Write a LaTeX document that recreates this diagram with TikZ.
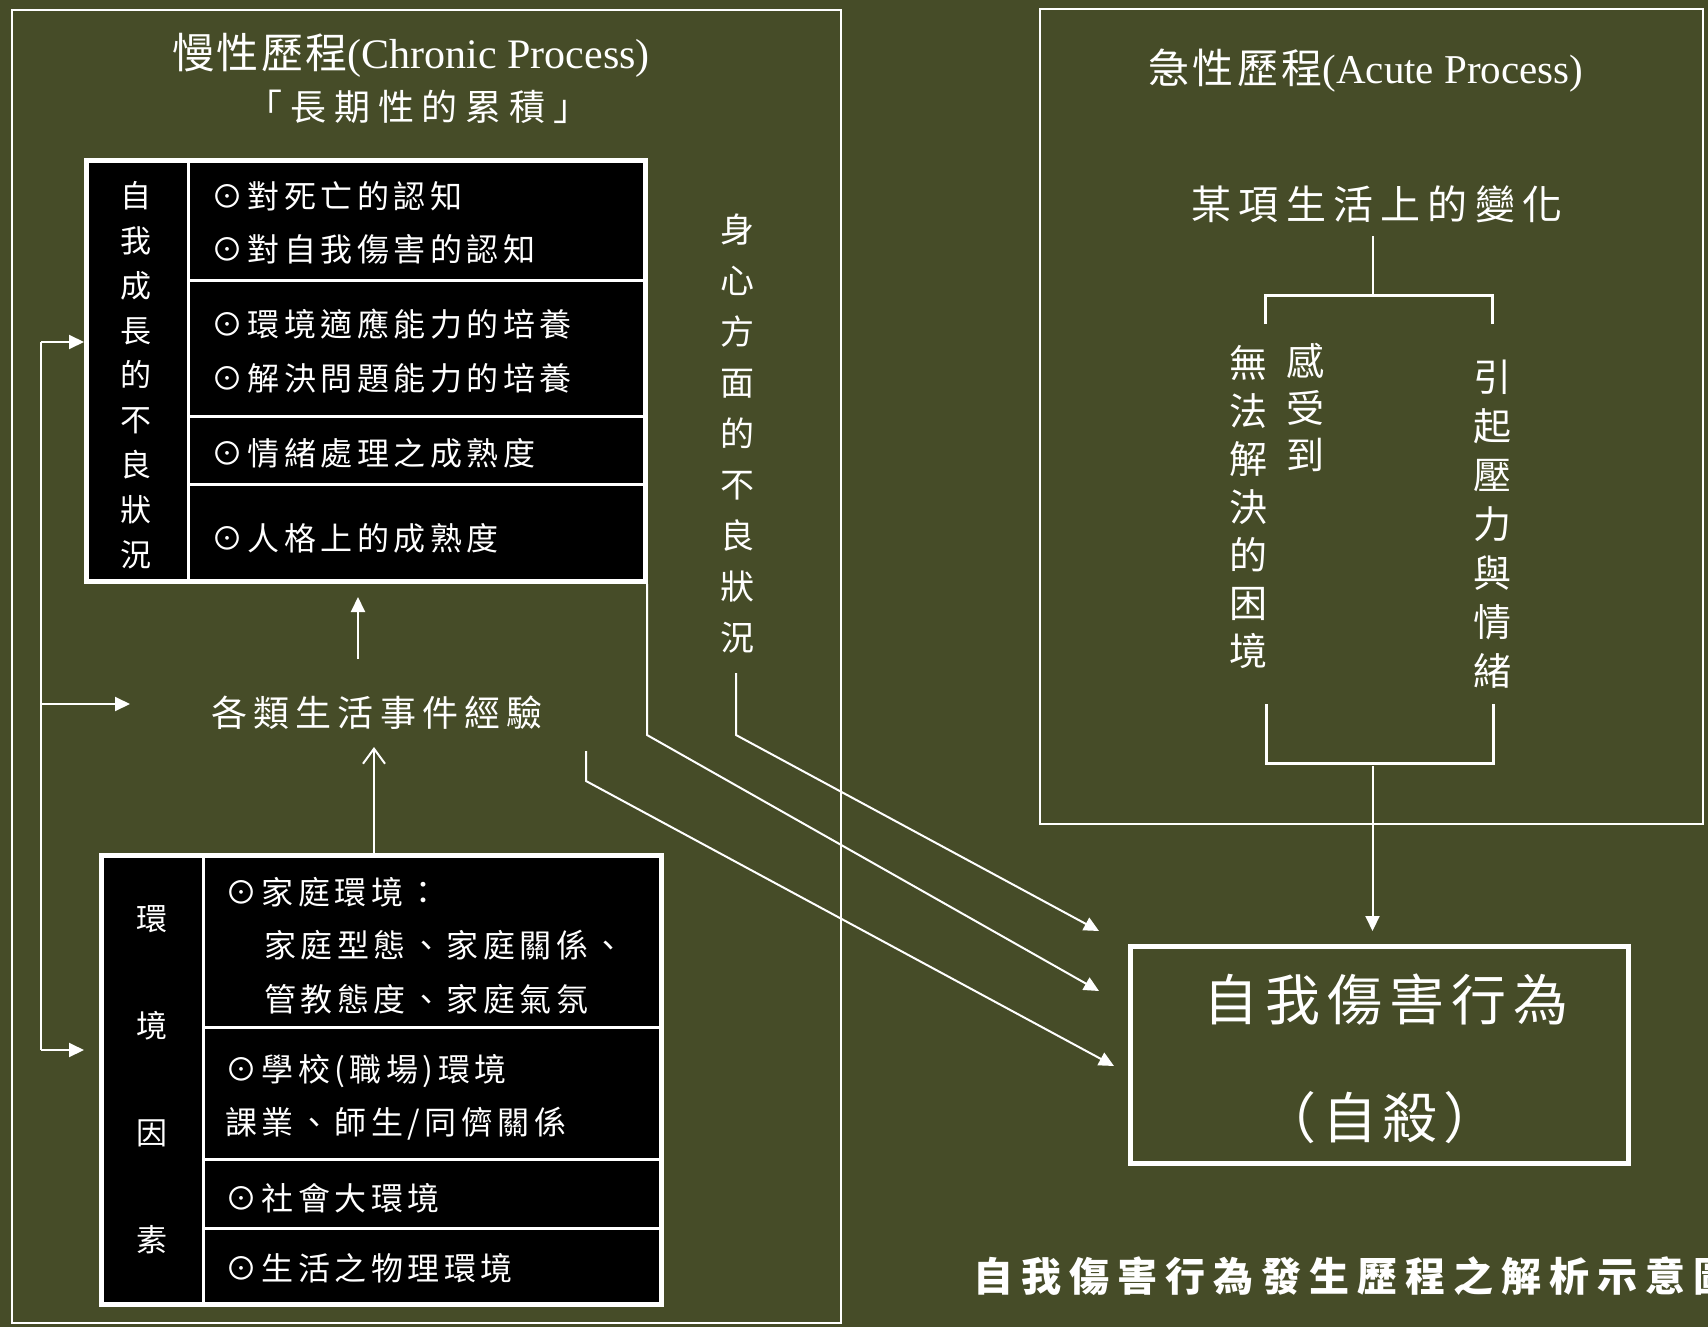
\documentclass[tikz,border=0pt]{standalone}
\usepackage{fontspec}
\setmainfont{Liberation Serif}
\newfontfamily\cjk{Noto Sans CJK TC}
\usetikzlibrary{arrows.meta}
\definecolor{bg}{RGB}{70,76,40}
\newcommand\cf[3]{\cjk\fontsize{#1}{#2}\selectfont\addfontfeature{LetterSpace=#3}}
\begin{document}
\begin{tikzpicture}[x=1pt,y=-1pt,
  txt/.style={text=white, inner sep=0pt},
  row/.style={txt, anchor=west, font=\cf{32}{40}{14}},
  wl/.style={draw=white, line width=2pt},
  arr/.style={wl, -{Triangle[length=15pt,width=14pt]}},
  openarr/.style={wl, -{Straight Barb[length=15pt,width=22pt]}},
  brk/.style={draw=white, line width=3pt},
  panel/.style={draw=white, line width=2pt, inner sep=0pt, outer sep=0pt, anchor=north west},
  blk/.style={draw=white, line width=5pt, fill=black, inner sep=0pt, outer sep=0pt, anchor=north west},
  sep/.style={draw=white, line width=3pt},
]
\useasboundingbox (0,0) rectangle (1708,1327);
\clip (0,0) rectangle (1708,1327);
\fill[bg] (0,0) rectangle (1708,1327);

% panels
\node[panel, minimum width=829pt, minimum height=1313pt] (chronic) at (12,10) {};
\node[panel, minimum width=663pt, minimum height=815pt] (acute) at (1040,9) {};

% titles
\node[txt, font=\fontsize{42}{50}\selectfont] (ctitle) at (411,55)
  {{\cjk\addfontfeature{LetterSpace=6}慢性歷程}(Chronic Process)};
\node[txt, font=\cf{36}{44}{22}] (csub) at (418,107) {「長期性的累積」};
\node[txt, font=\fontsize{41}{50}\selectfont] (atitle) at (1366,71)
  {{\cjk\addfontfeature{LetterSpace=8}急性歷程}(Acute Process)};

% self-growth box
\node[blk, minimum width=559pt, minimum height=421pt] (selfbox) at (86.5,160.5) {};
\draw[sep] (188,160) -- (188,582);
\draw[sep] (188,280) -- (646,280);
\draw[sep] (188,416) -- (646,416);
\draw[sep] (188,484) -- (646,484);
\node[txt, align=center, font=\cf{31}{44.8}{0}] (selfcol) at (136,375)
  {自\\我\\成\\長\\的\\不\\良\\狀\\況};
\node[row] (r1) at (211,196) {⊙對死亡的認知};
\node[row] (r2) at (211,249) {⊙對自我傷害的認知};
\node[row] (r3) at (211,324) {⊙環境適應能力的培養};
\node[row] (r4) at (211,378) {⊙解決問題能力的培養};
\node[row] (r5) at (211,453) {⊙情緒處理之成熟度};
\node[row] (r6) at (211,538) {⊙人格上的成熟度};

% environment box
\node[blk, minimum width=560pt, minimum height=449pt] (envbox) at (101.5,855.5) {};
\draw[sep] (203,855) -- (203,1305);
\draw[sep] (203,1027) -- (662,1027);
\draw[sep] (203,1159) -- (662,1159);
\draw[sep] (203,1228) -- (662,1228);
\node[txt, align=center, font=\cf{31}{107}{0}] (envcol) at (152,1080)
  {環\\境\\因\\素};
\node[row] (e1) at (225,892) {⊙家庭環境：};
\node[row] (e2) at (264,945) {家庭型態、家庭關係、};
\node[row] (e3) at (264,999) {管教態度、家庭氣氛};
\node[row] (e4) at (225,1071) {⊙學校(職場)環境};
\node[row] (e5) at (225,1124) {課業、師生/同儕關係};
\node[row] (e6) at (225,1198) {⊙社會大環境};
\node[row] (e7) at (225,1268) {⊙生活之物理環境};

% life events
\node[txt, font=\cf{36}{44}{17}] (events) at (377,713) {各類生活事件經驗};

% body-mind column
\node[txt, align=center, font=\cf{34}{51}{0}] (bodycol) at (737,434)
  {身\\心\\方\\面\\的\\不\\良\\狀\\況};

% acute texts
\node[txt, font=\cf{40}{48}{18}] (change) at (1377,204) {某項生活上的變化};
\node[txt, align=center, font=\cf{38}{48}{0}] (wufa) at (1248,507)
  {無\\法\\解\\決\\的\\困\\境};
\node[txt, align=center, font=\cf{38}{47}{0}] (ganshou) at (1305,407)
  {感\\受\\到};
\node[txt, align=center, font=\cf{38}{49}{0}] (yinqi) at (1492,524)
  {引\\起\\壓\\力\\與\\情\\緒};

% result box
\node[panel, line width=5pt, minimum width=498pt, minimum height=217pt] (result) at (1130.5,946.5) {};
\node[txt, font=\cf{55}{62}{13}] (res1) at (1386,1000) {自我傷害行為};
\node[txt, font=\cf{55}{62}{10}] (res2) at (1380,1118) {（自殺）};

% caption
\node[txt, anchor=west, font=\cf{40}{48}{20}\bfseries] (caption) at (973,1276)
  {自我傷害行為發生歷程之解析示意圖};

% coordinates
\coordinate (L1) at (41,342);
\coordinate (Lev) at (41,704);
\coordinate (L2) at (41,1050);
\coordinate (selfin) at (84,342);
\coordinate (evin) at (130,704);
\coordinate (envin) at (84,1050);
\coordinate (evtop) at (358,659);
\coordinate (selfbot) at (358,597);
\coordinate (envtop) at (374,854);
\coordinate (evbot) at (374,747);
\coordinate (bodyend) at (736,673);
\coordinate (bodybend) at (736,735);
\coordinate (selfcorner) at (647,584);
\coordinate (selfbend) at (647,735);
\coordinate (evright) at (586,751);
\coordinate (evbend) at (586,781);
\coordinate (tipA) at (1099,931);
\coordinate (tipB) at (1099,991);
\coordinate (tipC) at (1114,1066);
\coordinate (chgbot) at (1372.5,236);
\coordinate (brkTop) at (1372.5,295);
\coordinate (brkTL) at (1265.5,295);
\coordinate (brkTR) at (1492,295);
\coordinate (brkTLd) at (1265.5,324);
\coordinate (brkTRd) at (1492,324);
\coordinate (brkBL) at (1266,763);
\coordinate (brkBR) at (1493,763);
\coordinate (brkBLu) at (1266,704);
\coordinate (brkBRu) at (1493,704);
\coordinate (accout) at (1372.5,766);
\coordinate (restip) at (1372.5,931);

% left feedback loop
\draw[wl] (L1) -- (L2);
\draw[arr] (L1) -- (selfin);
\draw[arr] (Lev) -- (evin);
\draw[arr] (L2) -- (envin);

% vertical arrows
\draw[arr] (evtop) -- (selfbot);
\draw[openarr] (envtop) -- (evbot);

% diagonals
\draw[arr] (bodyend) -- (bodybend) -- (tipA);
\draw[arr] (selfcorner) -- (selfbend) -- (tipB);
\draw[arr] (evright) -- (evbend) -- (tipC);

% acute brackets
\draw[wl] (chgbot) -- (brkTop);
\draw[brk] (brkTLd) -- (brkTL) -- (brkTR) -- (brkTRd);
\draw[brk] (brkBLu) -- (brkBL) -- (brkBR) -- (brkBRu);
\draw[arr] (accout) -- (restip);
\end{tikzpicture}
\end{document}
